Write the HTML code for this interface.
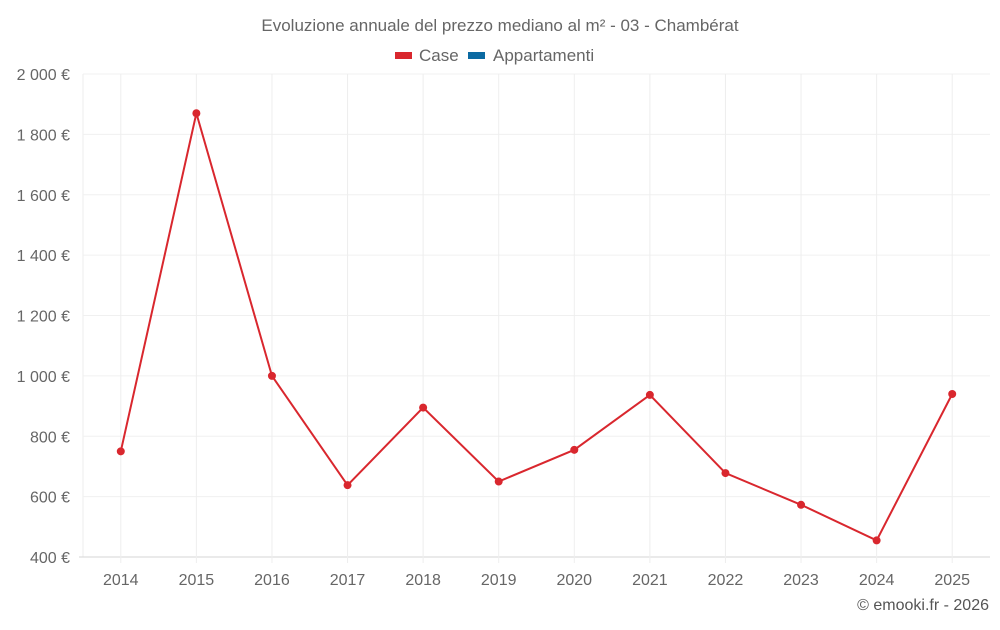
<!DOCTYPE html>
<html><head><meta charset="utf-8"><style>
body{margin:0;background:#fff;font-family:"Liberation Sans",sans-serif;}
svg text{font-family:"Liberation Sans",sans-serif;}
</style></head><body>
<svg id="chart" width="1000" height="625">
<text x="500" y="31" text-anchor="middle" font-size="17" fill="#666">Evoluzione annuale del prezzo mediano al m² - 03 - Chambérat</text>
<g><rect x="395" y="52" width="17" height="7" fill="#d9272e"/><text x="419" y="61" font-size="17" fill="#666">Case</text></g>
<g><rect x="468" y="52" width="17" height="7" fill="#0b6aa2"/><text x="493" y="61" font-size="17" fill="#666">Appartamenti</text></g>
<g id="grid"></g><g id="axes"></g><g id="series"></g>
<text x="989" y="610" text-anchor="end" font-size="16" fill="#555">© emooki.fr - 2026</text>
</svg>
<script>
const years=["2014","2015","2016","2017","2018","2019","2020","2021","2022","2023","2024","2025"];
const caseValues=[750,1870,1000,638,895,650,755,937,678,573,455,940];
const yTicks=[400,600,800,1000,1200,1400,1600,1800,2000];
const NS="http://www.w3.org/2000/svg";
const L=83,R=990,T=74,B=557,yMin=400,yMax=2000;
const bw=(R-L)/years.length;
const xs=i=>L+bw*(i+0.5);
const ys=v=>B-(v-yMin)/(yMax-yMin)*(B-T);
function mk(t,a,p){const e=document.createElementNS(NS,t);for(const k in a)e.setAttribute(k,a[k]);p.appendChild(e);return e;}
const grid=document.getElementById('grid'),axes=document.getElementById('axes'),ser=document.getElementById('series');
function fmt(v){return v>=1000?Math.floor(v/1000)+" "+String(v%1000).padStart(3,"0")+" €":v+" €";}
const lv=mk('line',{x1:L,x2:L,y1:T,y2:B,stroke:'#eeeeee'},grid);


yTicks.forEach(v=>{
 const l=mk('line',{x1:v===yMin?L-4:L,x2:R,y1:ys(v),y2:ys(v),stroke:v===yMin?'#d6d6d6':'#f0f0f0'},grid);
 
 
 const t=mk('text',{x:70,y:ys(v)+6,'text-anchor':'end','font-size':16,fill:'#666'},axes);
 t.textContent=fmt(v);
 
 
});
years.forEach((y,i)=>{
 const l=mk('line',{x1:xs(i),x2:xs(i),y1:T,y2:B+6,stroke:'#eeeeee'},grid);
 
 
 const t=mk('text',{x:xs(i),y:585,'text-anchor':'middle','font-size':16,fill:'#666'},axes);
 t.textContent=y;
 
 
});
const p=mk('polyline',{points:caseValues.map((v,i)=>xs(i)+','+ys(v)).join(' '),fill:'none',stroke:'#d9272e','stroke-width':2},ser);


caseValues.forEach((v,i)=>{
 const c=mk('circle',{cx:xs(i),cy:ys(v),r:4,fill:'#d9272e'},ser);
 
 
});
</script>
</body></html>
